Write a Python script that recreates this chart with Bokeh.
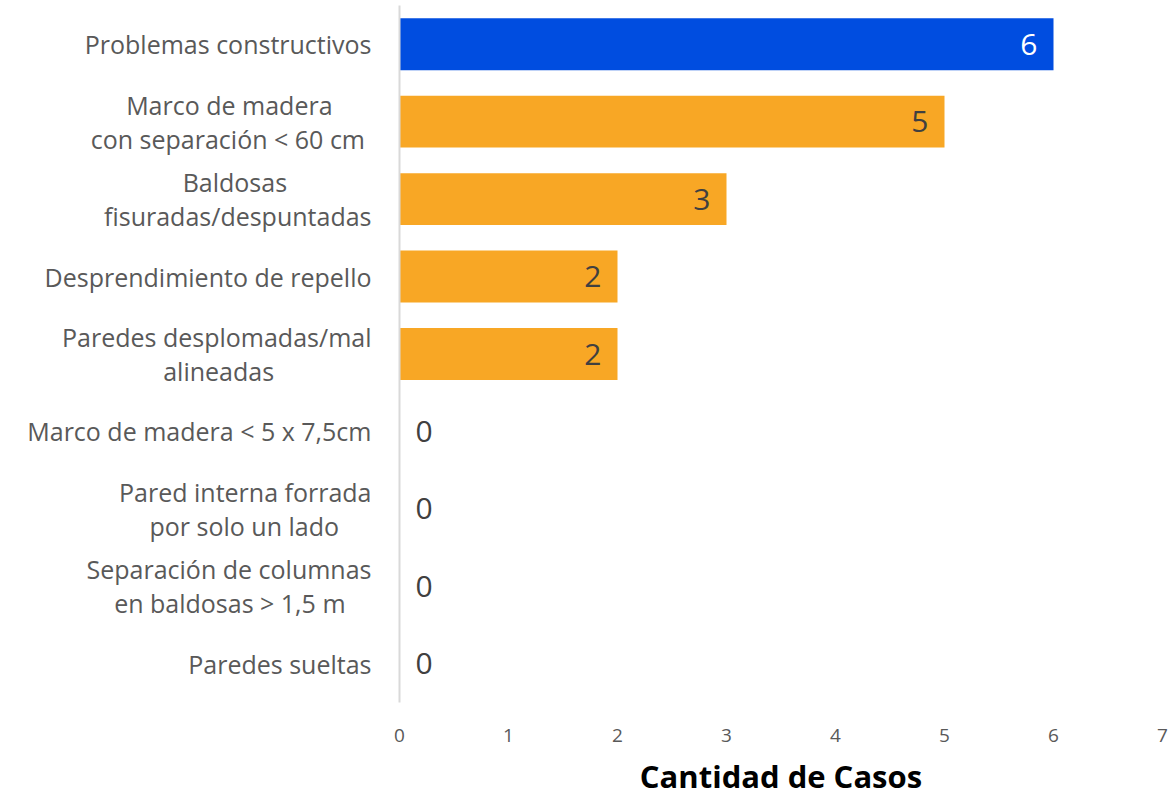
from bokeh.plotting import figure
from bokeh.models import ColumnDataSource, FactorRange
from bokeh.embed import file_html
from bokeh.resources import INLINE
from bokeh.core.properties import value

categories = [
    "Problemas constructivos",
    "Marco de madera\ncon separación < 60 cm ",
    "Baldosas\nfisuradas/despuntadas",
    "Desprendimiento de repello",
    "Paredes desplomadas/mal\nalineadas",
    "Marco de madera < 5 x 7,5cm",
    "Pared interna forrada\npor solo un lado",
    "Separación de columnas\nen baldosas > 1,5 m",
    "Paredes sueltas",
]
values = [6, 5, 3, 2, 2, 0, 0, 0, 0]
bar_colors = ["#004DE0", "#F8A725", "#F8A725", "#F8A725", "#F8A725",
              "#F8A725", "#F8A725", "#F8A725", "#F8A725"]
label_colors = ["#FFFFFF"] + ["#404040"] * 8
x_ticks = [0, 1, 2, 3, 4, 5, 6, 7]

# trailing no-break spaces so multi-line labels look centred line by line
pad_spaces = [0, 6, 13, 0, 15, 0, 5, 4, 0]
NBSP = "\u00a0"
factors = []
for c, n in zip(categories, pad_spaces):
    lines = c.split("\n")
    if n:
        w = [len(s) for s in lines]
        short = w.index(min(w))
        lines[short] = lines[short] + NBSP * n + "\u200b"
    factors.append("\n".join(lines))

aligns = ["right" if v > 0 else "left" for v in values]
offsets = [-16 if v > 0 else 16 for v in values]

src = ColumnDataSource(dict(cat=factors, val=values, color=bar_colors,
                            lcolor=label_colors, txt=[str(v) for v in values],
                            align=aligns, off=offsets))

p = figure(width=1168, height=799, output_backend="svg", toolbar_location=None,
           y_range=FactorRange(factors=list(reversed(factors)), range_padding=0),
           x_range=(0, 7))
p.min_border_left = 399
p.min_border_right = 6
p.min_border_top = 5
p.min_border_bottom = 0
p.outline_line_color = None
p.xgrid.grid_line_color = None
p.ygrid.grid_line_color = None

p.hbar(y="cat", right="val", left=0, height=0.67, fill_color="color",
       line_color=None, source=src)
p.text(x="val", y="cat", text="txt", text_color="lcolor", text_align="align",
       text_baseline="middle", x_offset="off", text_font_size="30px",
       text_font=value("Open Sans"), source=src)

p.xaxis.ticker = x_ticks
p.xaxis.axis_line_color = None
p.xaxis.major_tick_line_color = None
p.xaxis.minor_tick_line_color = None
p.xaxis.major_label_text_font = "Open Sans"
p.xaxis.major_label_text_font_size = "19px"
p.xaxis.major_label_text_color = "#595959"
p.xaxis.major_label_standoff = 20
p.xaxis.axis_label = "Cantidad de Casos"
p.xaxis.axis_label_text_font = "Open Sans"
p.xaxis.axis_label_text_font_style = "bold"
p.xaxis.axis_label_text_font_size = "31px"
p.xaxis.axis_label_text_color = "#000000"
p.xaxis.axis_label_standoff = 10

p.yaxis.axis_line_color = "#D9D9D9"
p.yaxis.axis_line_width = 2
p.yaxis.major_tick_line_color = None
p.yaxis.minor_tick_line_color = None
p.yaxis.major_label_text_font = "Open Sans"
p.yaxis.major_label_text_font_size = "25px"
p.yaxis.major_label_text_line_height = 1.0
p.yaxis.major_label_text_color = "#595959"
p.yaxis.major_label_standoff = 22

open("out.html", "w").write(file_html(p, INLINE))
